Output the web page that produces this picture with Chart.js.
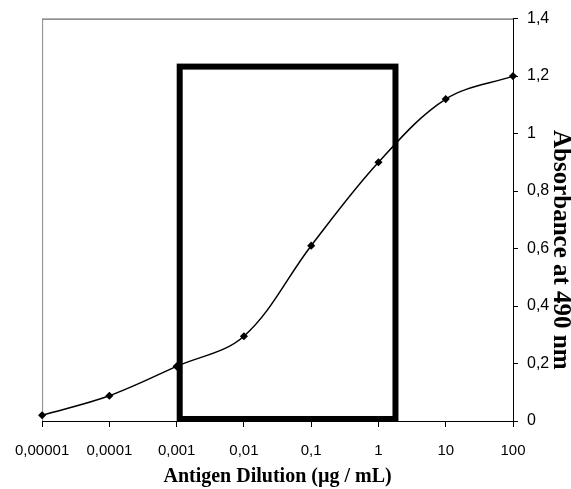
<!DOCTYPE html>
<html>
<head>
<meta charset="utf-8">
<script src="https://cdn.jsdelivr.net/npm/chart.js@4"></script>
<style>
html,body{margin:0;padding:0;background:#fff;}
#wrap{width:571px;height:489px;}
</style>
</head>
<body>
<div id="wrap"><canvas id="c" width="571" height="489"></canvas></div>
<script>
// ---- data ----
const dilutions = [0.00001, 0.0001, 0.001, 0.01, 0.1, 1, 10, 100];
const absorbance = [0.02, 0.088, 0.19, 0.295, 0.61, 0.90, 1.12, 1.20];
const xTickValues = [0.00001, 0.0001, 0.001, 0.01, 0.1, 1, 10, 100];
const xTickLabels = ['0,00001', '0,0001', '0,001', '0,01', '0,1', '1', '10', '100'];
const yTickValues = [0, 0.2, 0.4, 0.6, 0.8, 1, 1.2, 1.4];
const yTickLabels = ['0', '0,2', '0,4', '0,6', '0,8', '1', '1,2', '1,4'];
const boxX = [0.00111, 1.79];   // rectangle x extent (µg/mL)
const boxY = [0.007, 1.233];    // rectangle y extent (absorbance)
const xTitle = 'Antigen Dilution (µg / mL)';
const yTitle = 'Absorbance at 490 nm';

const framePlugin = {
  id: 'frame',
  beforeDatasetsDraw(chart) {
    const {ctx, chartArea: a} = chart;
    ctx.save();
    ctx.lineWidth = 1;
    ctx.strokeStyle = '#444';
    ctx.beginPath();
    ctx.moveTo(a.left, a.top + 0.5);
    ctx.lineTo(a.right, a.top + 0.5);
    ctx.stroke();
    ctx.strokeStyle = '#888';
    ctx.beginPath();
    ctx.moveTo(a.left + 0.5, a.top);
    ctx.lineTo(a.left + 0.5, a.bottom);
    ctx.stroke();
    ctx.restore();
  },
  afterDatasetsDraw(chart) {
    const {ctx, scales: {x, y}} = chart;
    const x0 = x.getPixelForValue(boxX[0]);
    const x1 = x.getPixelForValue(boxX[1]);
    const y0 = y.getPixelForValue(boxY[0]);
    const y1 = y.getPixelForValue(boxY[1]);
    ctx.save();
    ctx.lineWidth = 6;
    ctx.strokeStyle = '#000';
    ctx.lineJoin = 'miter';
    ctx.strokeRect(x0, y1, x1 - x0, y0 - y1);
    ctx.restore();
  },
  afterDraw(chart) {
    const {ctx, chartArea: a} = chart;
    ctx.save();
    ctx.translate(a.right + 47, (a.top + a.bottom) / 2 + 30);
    ctx.rotate(Math.PI / 2);
    ctx.font = 'bold 25px "Liberation Serif"';
    ctx.fillStyle = '#000';
    ctx.textAlign = 'center';
    ctx.textBaseline = 'middle';
    ctx.fillText(yTitle, 0, 0);
    ctx.restore();
  }
};

new Chart(document.getElementById('c'), {
  type: 'line',
  data: {
    datasets: [{
      data: dilutions.map((d, i) => ({x: d, y: absorbance[i]})),
      borderColor: '#000',
      backgroundColor: '#000',
      borderWidth: 1.5,
      tension: 0.35,
      pointStyle: 'rectRot',
      pointRadius: 3,
      pointBackgroundColor: '#000',
      pointBorderColor: '#000',
      clip: false
    }]
  },
  options: {
    responsive: false,
    animation: false,
    events: [],
    layout: {padding: {left: 39, top: 18, right: 0, bottom: 0}},
    plugins: {legend: {display: false}, tooltip: {enabled: false}},
    scales: {
      x: {
        type: 'logarithmic',
        position: 'bottom',
        min: 0.00001,
        max: 100,
        afterBuildTicks(s) { s.ticks = xTickValues.map(v => ({value: v, major: true})); },
        afterFit(s) { s.height = 68; },
        grid: {display: true, drawOnChartArea: false, drawTicks: true, tickLength: 6, color: '#000'},
        border: {display: true, color: '#000', width: 1},
        ticks: {
          autoSkip: false, maxRotation: 0, padding: 15, color: '#000',
          font: {family: '"Liberation Sans"', size: 15},
          callback(v, i) { return xTickLabels[i]; }
        },
        title: {
          display: true, text: xTitle, color: '#000',
          font: {family: '"Liberation Serif"', size: 20, weight: 'bold'},
          padding: {top: 0, bottom: 0}
        }
      },
      y: {
        type: 'linear',
        position: 'right',
        min: 0,
        max: 1.4,
        afterBuildTicks(s) { s.ticks = yTickValues.map(v => ({value: v})); },
        afterFit(s) { s.width = 58; },
        grid: {display: true, drawOnChartArea: false, drawTicks: true, tickLength: 5, color: '#000'},
        border: {display: true, color: '#000', width: 1},
        ticks: {
          padding: 9, color: '#000',
          font: {family: '"Liberation Sans"', size: 16},
          callback(v, i) { return yTickLabels[i]; }
        },
        title: {display: false}
      }
    }
  },
  plugins: [framePlugin]
});
</script>
</body>
</html>
